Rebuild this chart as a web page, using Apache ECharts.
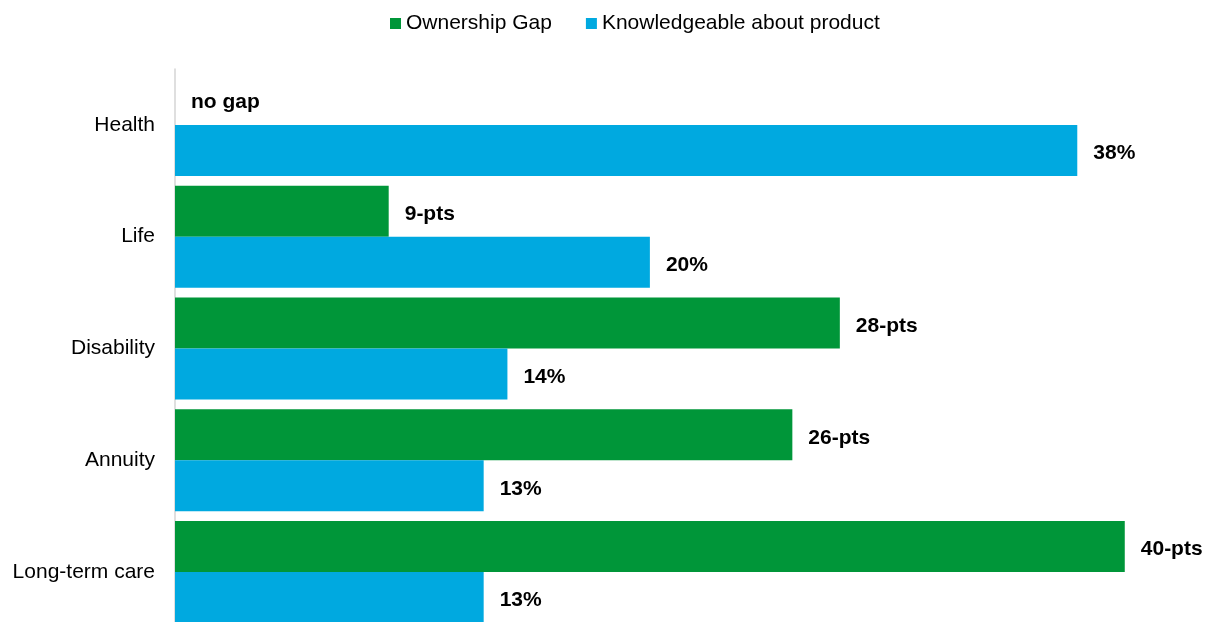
<!DOCTYPE html>
<html>
<head>
<meta charset="utf-8">
<style>
  html, body { margin: 0; padding: 0; background: #fff; overflow: hidden; }
  /* plot runs slightly past the bottom edge of the window, so the drawing surface is taller */
  #chart { width: 1206px; height: 640px; }
</style>
<script src="https://cdn.jsdelivr.net/npm/echarts@6/dist/echarts.min.js"></script>
</head>
<body>
<div id="chart"></div>
<script>
// Insurance products: ownership gap (points) vs. share knowledgeable about the product (%)
const categories = ['Health', 'Life', 'Disability', 'Annuity', 'Long-term care'];
const ownershipGap = [0, 9, 28, 26, 40];
const knowledgeable = [38, 20, 14, 13, 13];
const seriesNames = ['Ownership Gap', 'Knowledgeable about product'];

const GREEN = '#009639';
const BLUE = '#00A9E0';
const FONT = 'Liberation Sans, Arial, sans-serif';

const chart = echarts.init(document.getElementById('chart'), null, { renderer: 'canvas' });

const labelStyle = {
  show: true,
  position: 'right',
  distance: 16,
  offset: [0, 3],
  color: '#000',
  fontWeight: 'bold',
  fontSize: 21,
  fontFamily: FONT
};

chart.setOption({
  animation: false,
  textStyle: { fontFamily: FONT },
  legend: {
    top: 8,
    left: 385,
    icon: 'rect',
    itemWidth: 11,
    itemHeight: 11,
    itemGap: 34,
    textStyle: { fontSize: 21, color: '#000', fontFamily: FONT },
    data: seriesNames
  },
  grid: { left: 175, top: 69, width: 1021, height: 559, containLabel: false },
  xAxis: {
    type: 'value',
    min: 0,
    max: 43,
    show: false
  },
  yAxis: {
    type: 'category',
    inverse: true,
    data: categories,
    axisLine: { show: true, lineStyle: { color: '#d4d4d4', width: 1.5 } },
    axisTick: { show: false },
    axisLabel: { fontSize: 21, color: '#000', margin: 20, fontFamily: FONT },
    splitLine: { show: false }
  },
  series: [
    {
      name: seriesNames[0],
      type: 'bar',
      data: ownershipGap,
      barWidth: 51,
      barGap: '0%',
      itemStyle: { color: GREEN },
      label: Object.assign({}, labelStyle, {
        formatter: p => (p.value === 0 ? 'no gap' : p.value + '-pts')
      })
    },
    {
      name: seriesNames[1],
      type: 'bar',
      data: knowledgeable,
      barWidth: 51,
      barGap: '0%',
      itemStyle: { color: BLUE },
      label: Object.assign({}, labelStyle, {
        formatter: p => p.value + '%'
      })
    }
  ]
});
</script>
</body>
</html>
